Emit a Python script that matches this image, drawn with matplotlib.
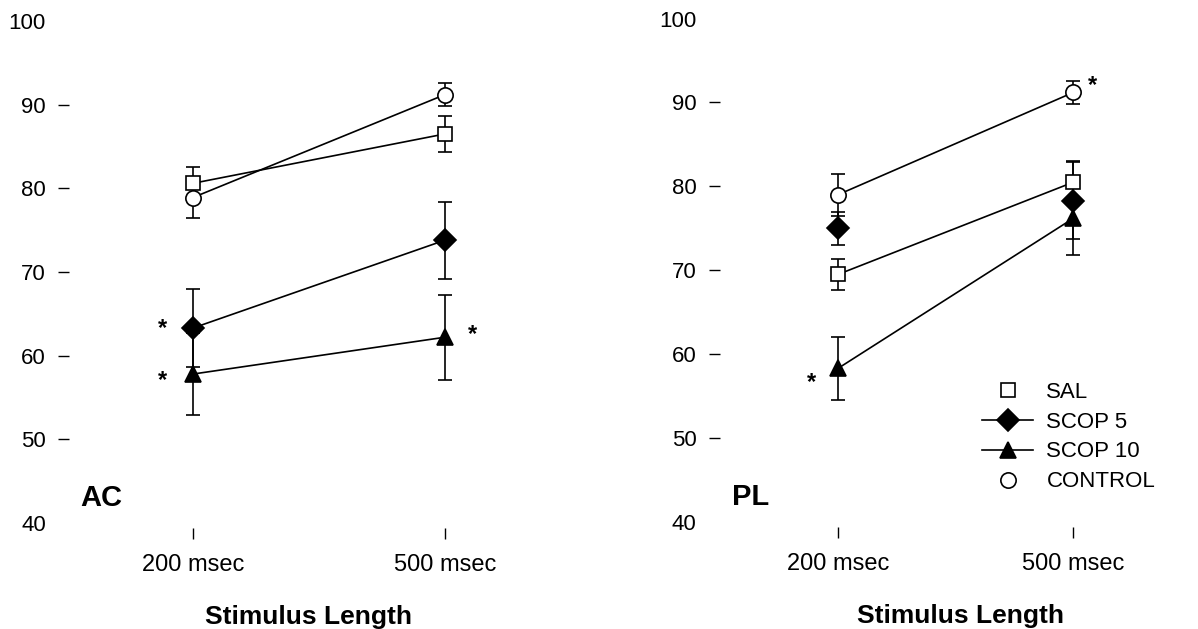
import matplotlib
matplotlib.use("Agg")
import matplotlib.pyplot as plt
from matplotlib.lines import Line2D

plt.rcParams['font.family'] = ['Liberation Sans', 'DejaVu Sans']

# categories on the x axis
lengths = ['200 msec', '500 msec']
groups = ['SAL', 'SCOP 5', 'SCOP 10', 'CONTROL']

# AC panel: means and error bars
ac_sal = [80.6, 86.5]
ac_sal_err = [1.9, 2.2]
ac_scop5 = [63.3, 73.8]
ac_scop5_err = [4.7, 4.6]
ac_scop10 = [57.8, 62.2]
ac_scop10_err = [4.9, 5.1]
ac_control = [78.9, 91.2]
ac_control_err = [2.5, 1.4]

# PL panel
pl_sal = [69.5, 80.5]
pl_sal_err = [1.9, 2.5]
pl_scop5 = [75.0, 78.3]
pl_scop5_err = [2.0, 4.6]
pl_scop10 = [58.3, 76.2]
pl_scop10_err = [3.8, 4.4]
pl_control = [79.0, 91.2]
pl_control_err = [2.5, 1.4]

yticks = [40, 50, 60, 70, 80, 90, 100]

# significance stars: (group, x index, offset in points)
ac_stars = [('SCOP 5', 0, (-22, 0)), ('SCOP 10', 0, (-22, -5)), ('SCOP 10', 1, (20, 2))]
pl_stars = [('CONTROL', 1, (14, 5)), ('SCOP 10', 0, (-19, -10))]

styles = {
    'SAL': dict(marker='s', mfc='white', ms=10),
    'SCOP 5': dict(marker='D', mfc='black', ms=11),
    'SCOP 10': dict(marker='^', mfc='black', ms=12),
    'CONTROL': dict(marker='o', mfc='white', ms=11),
}


def draw_panel(ax, data, stars, label_x, no_line=()):
    x = [0, 1]
    for name in ['CONTROL', 'SAL', 'SCOP 5', 'SCOP 10']:
        vals, errs = data[name]
        st = styles[name]
        ls = 'none' if name in no_line else '-'
        ax.errorbar(x, vals, yerr=errs, color='black', linestyle=ls, lw=1.2,
                    marker=st['marker'], mfc=st['mfc'], mec='black', ms=st['ms'],
                    mew=1.2, capsize=5, capthick=1.2, elinewidth=1.2)
    for name, i, off in stars:
        ax.annotate('*', (x[i], data[name][0][i]), xytext=off,
                    textcoords='offset points', ha='center', va='center',
                    fontsize=17, fontweight='bold')

    ax.set_ylim(39.4, 100)
    ax.set_yticks(yticks)
    ax.set_yticklabels([str(v) for v in yticks])
    ax.set_xticks(x)
    ax.set_xticklabels(lengths)
    for s in ax.spines.values():
        s.set_visible(False)
    ax.tick_params(axis='y', length=8, width=1.0, pad=9, labelsize=16)
    ax.tick_params(axis='x', length=8, width=1.0, pad=11, labelsize=17)
    ticks = ax.yaxis.get_major_ticks()
    ticks[0].tick1line.set_visible(False)
    ticks[-1].tick1line.set_visible(False)
    ax.set_xlabel('Stimulus Length', fontsize=19, fontweight='bold')
    ax.xaxis.set_label_coords(label_x, -0.151)


fig = plt.figure(figsize=(11.98, 6.29), dpi=100)
ax1 = fig.add_axes([0.058, 0.1606, 0.3765, 0.806])
ax1.set_xlim(-0.49, 1.3)
ax2 = fig.add_axes([0.601, 0.1622, 0.3923, 0.8083])
ax2.set_xlim(-0.501, 1.495)

ac = {'SAL': (ac_sal, ac_sal_err), 'SCOP 5': (ac_scop5, ac_scop5_err),
      'SCOP 10': (ac_scop10, ac_scop10_err), 'CONTROL': (ac_control, ac_control_err)}
pl = {'SAL': (pl_sal, pl_sal_err), 'SCOP 5': (pl_scop5, pl_scop5_err),
      'SCOP 10': (pl_scop10, pl_scop10_err), 'CONTROL': (pl_control, pl_control_err)}

draw_panel(ax1, ac, ac_stars, 0.531)
draw_panel(ax2, pl, pl_stars, 0.511, no_line=('SCOP 5',))

fig.text(0.0668, 0.208, 'AC', fontsize=21, fontweight='bold', va='center')
fig.text(0.611, 0.21, 'PL', fontsize=21, fontweight='bold', va='center')

# legend: SAL and CONTROL without line
handles = []
for name in groups:
    st = styles[name]
    ls = '-' if name in ('SCOP 5', 'SCOP 10') else 'none'
    handles.append(Line2D([], [], color='black', linestyle=ls, lw=1.2,
                          marker=st['marker'], mfc=st['mfc'], mec='black',
                          ms=st['ms'], mew=1.2))
leg = ax2.legend(handles, groups, loc='center left', bbox_to_anchor=(982 / 1198, 1 - 437 / 629),
                 bbox_transform=fig.transFigure, frameon=False, fontsize=16,
                 borderpad=0, borderaxespad=0, handlelength=2.3, handletextpad=0.6,
                 labelspacing=0.4)

fig.savefig('out.png', dpi=100)
